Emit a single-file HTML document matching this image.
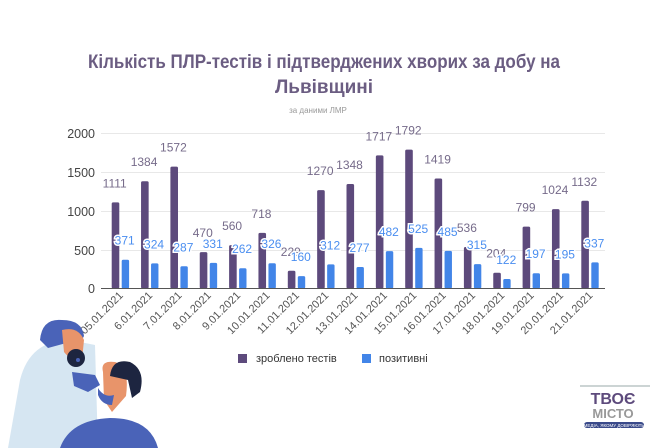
<!DOCTYPE html>
<html><head><meta charset="utf-8"><style>
body{margin:0;background:#fff}
svg{display:block;font-family:"Liberation Sans",sans-serif}
</style></head><body>
<svg width="672" height="448" viewBox="0 0 672 448" xmlns="http://www.w3.org/2000/svg">
<rect width="672" height="448" fill="#fff"/>
<text x="324" y="68" text-anchor="middle" font-size="19" font-weight="bold" fill="#6b5d82" textLength="472" lengthAdjust="spacingAndGlyphs">Кількість ПЛР-тестів і підтверджених хворих за добу на</text>
<text x="324" y="93" text-anchor="middle" font-size="19" font-weight="bold" fill="#6b5d82">Львівщині</text>
<text x="318" y="113" text-anchor="middle" font-size="8" fill="#999">за даними ЛМР</text>
<g stroke="#e8e8e8" stroke-width="1">
<line x1="101" y1="133.5" x2="605" y2="133.5"/><line x1="101" y1="172.5" x2="605" y2="172.5"/>
<line x1="101" y1="211.5" x2="605" y2="211.5"/><line x1="101" y1="250.5" x2="605" y2="250.5"/>
</g>
<g font-size="12.5" fill="#444" text-anchor="end">
<text x="95" y="138">2000</text><text x="95" y="177">1500</text><text x="95" y="216">1000</text><text x="95" y="255">500</text><text x="95" y="293">0</text>
</g>
<g id="bars"></g>
<line x1="101" y1="288.5" x2="605" y2="288.5" stroke="#555" stroke-width="1"/>
<rect x="238" y="354" width="9" height="9" fill="#5d4a7c"/>
<text x="256" y="362" font-size="11" fill="#333">зроблено тестів</text>
<rect x="362" y="354" width="9" height="9" fill="#4285e8"/>
<text x="379" y="362" font-size="11" fill="#333">позитивні</text>
<!-- illustration -->
<g>
<path d="M8 448 L20 380 Q30 340 70 340 L95 345 L98 448 Z" fill="#d6e6f2"/>
<path d="M40 340 Q42 318 62 320 Q82 320 84 336 Q80 345 70 342 L48 348 Z" fill="#4a63b8"/>
<path d="M62 330 Q78 326 84 340 L82 360 Q72 362 64 352 Z" fill="#e8946a"/>
<ellipse cx="76" cy="358" rx="9" ry="9" fill="#1d2540"/>
<circle cx="78" cy="360" r="2" fill="#4a63b8"/>
<path d="M72 372 L95 375 L100 385 L88 392 L74 386 Z" fill="#4a63b8"/>
<path d="M60 448 Q70 420 110 418 Q150 418 158 448 Z" fill="#4a63b8"/>
<path d="M103 372 Q100 360 115 362 Q130 366 126 396 L112 412 L104 400 Z" fill="#e8946a"/>
<path d="M110 376 Q112 358 130 362 Q146 370 140 392 L132 398 L128 380 Z" fill="#1d2540"/>
<path d="M98 388 Q104 398 114 395 L112 405 Q102 405 98 395 Z" fill="#4a63b8"/>
</g>
<!-- logo -->
<g>
<line x1="580" y1="386" x2="650" y2="386" stroke="#9aa" stroke-width="1"/>
<text x="613" y="404" text-anchor="middle" font-size="16" font-weight="bold" fill="#5d4a7c">ТВОЄ</text>
<text x="613" y="418" text-anchor="middle" font-size="13" font-weight="bold" fill="#999">МІСТО</text>
<rect x="584" y="422" width="60" height="6" rx="3" fill="#3a4a8a"/>
<text x="614" y="427" text-anchor="middle" font-size="4.5" fill="#fff">МЕДІА, ЯКОМУ ДОВІРЯЮТЬ</text>
</g>
</svg>
<script>
const t=[1111,1384,1572,470,560,718,229,1270,1348,1717,1792,1419,536,204,799,1024,1132];
const p=[371,324,287,331,262,326,160,312,277,482,525,485,315,122,197,195,337];
const d=["05.01.2021","6.01.2021","7.01.2021","8.01.2021","9.01.2021","10.01.2021","11.01.2021","12.01.2021","13.01.2021","14.01.2021","15.01.2021","16.01.2021","17.01.2021","18.01.2021","19.01.2021","20.01.2021","21.01.2021"];
const g=document.getElementById('bars');let s='';
const k=155/2000,base=288.5,step=29.35;
for(let i=0;i<17;i++){
 const x=111.7+i*step;
 const h1=t[i]*k,h2=p[i]*k;
 s+=`<rect x="${x}" y="${base-h1}" width="7.6" height="${h1}" rx="1.5" fill="#5d4a7c"/>`;
 s+=`<rect x="${x+10}" y="${base-h2}" width="7.4" height="${h2}" rx="1.5" fill="#4285e8"/>`;
 s+=`<text x="${x+3}" y="${base-h1-15}" text-anchor="middle" font-size="12" fill="#766b8a">${t[i]}</text>`;
 s+=`<text x="${x+13}" y="${base-h2-15}" text-anchor="middle" font-size="12" fill="#4a8ef0" stroke="#fff" stroke-width="3" paint-order="stroke">${p[i]}</text>`;
 const cx=x+12;
 s+=`<text transform="translate(${cx},296) rotate(-45)" text-anchor="end" font-size="11" fill="#555">${d[i]}</text>`;
}
g.innerHTML=s;
</script>
</body></html>
